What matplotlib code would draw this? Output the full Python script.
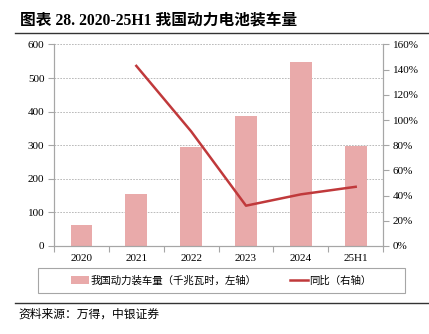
import matplotlib
matplotlib.use("Agg")
import matplotlib.pyplot as plt
from matplotlib.patches import Patch, Rectangle
from matplotlib.lines import Line2D
from matplotlib.ticker import FuncFormatter

plt.rcParams["font.family"] = ["Liberation Serif", "Noto Sans CJK SC", "DejaVu Sans"]

categories = ["2020", "2021", "2022", "2023", "2024", "25H1"]
volume_gwh = [63, 155, 294, 387, 548, 299]
yoy_pct = [None, 143, 91, 32, 41, 47]

BAR = "#e9aaaa"
LINE = "#c0393b"
GRID = "#b0b0b0"
AXIS = "#a6a6a6"
CJK = ["Noto Sans CJK SC", "DejaVu Sans"]

fig = plt.figure(figsize=(4.29, 3.34), dpi=100, facecolor="white")
ax = fig.add_axes([0.126, 0.2635, 0.767, 0.6033])
ax2 = ax.twinx()

x = list(range(len(categories)))
ax.bar(x, volume_gwh, width=0.4, color=BAR, zorder=2)
ax.set_xlim(-0.5, len(categories) - 0.5)
ax.set_ylim(0, 600)
ax.set_yticks(range(0, 601, 100))
ax.yaxis.grid(True, linestyle=(0, (2, 1.5)), color=GRID, linewidth=0.6)
ax.set_axisbelow(True)
ax.set_xticks(x)
ax.set_xticklabels(categories)
ax.set_xticks([i - 0.5 for i in range(len(categories) + 1)], minor=True)
ax.tick_params(axis="x", which="major", length=0, pad=6, labelsize=8)
ax.tick_params(axis="x", which="minor", length=4, color=AXIS, width=0.8)
ax.tick_params(axis="y", length=4, color=AXIS, width=0.8, labelsize=8, pad=3)

lx = [i for i, v in zip(x, yoy_pct) if v is not None]
ly = [v for v in yoy_pct if v is not None]
ax2.plot(lx, ly, color=LINE, linewidth=1.8, zorder=3)
ax2.set_ylim(0, 160)
ax2.set_yticks(range(0, 161, 20))
ax2.yaxis.set_major_formatter(FuncFormatter(lambda v, p: f"{int(v)}%"))
ax2.tick_params(axis="y", length=4, color=AXIS, width=0.8, labelsize=8, pad=3)

for a in (ax, ax2):
    a.spines["top"].set_visible(False)
    for s in ("left", "right", "bottom"):
        a.spines[s].set_color(AXIS)
        a.spines[s].set_linewidth(0.8)

# title + rules
fig.text(0.047, 0.94, "图表 28. 2020-25H1 我国动力电池装车量", fontsize=11.3,
         fontweight="bold", family=["Liberation Serif", "Noto Sans CJK SC"],
         va="center", ha="left")
fig.add_artist(Line2D([0.035, 1.0], [0.901, 0.901], color="#333333", linewidth=1.0))
fig.add_artist(Line2D([0.035, 1.0], [0.093, 0.093], color="#333333", linewidth=1.0))
fig.text(0.042, 0.058, "资料来源：万得，中银证券", fontsize=8.5, family=CJK,
         style="italic", va="center", ha="left")

# legend box + centred entries
fig.add_artist(Rectangle((0.0886, 0.1228), 0.855, 0.0748, transform=fig.transFigure,
                         facecolor="none", edgecolor=AXIS, linewidth=0.8))
handles = [Patch(facecolor=BAR, edgecolor="none"),
           Line2D([0], [0], color=LINE, linewidth=1.8)]
labels = ["我国动力装车量（千兆瓦时，左轴）", "同比（右轴）"]
fig.legend(handles, labels, loc="center", ncol=2,
           bbox_to_anchor=(0.516, 0.1602), frameon=False,
           prop={"family": CJK, "size": 7.5}, columnspacing=3.3,
           handlelength=1.7, handletextpad=0.1, borderaxespad=0)

fig.savefig("out.png", dpi=100, facecolor="white")
